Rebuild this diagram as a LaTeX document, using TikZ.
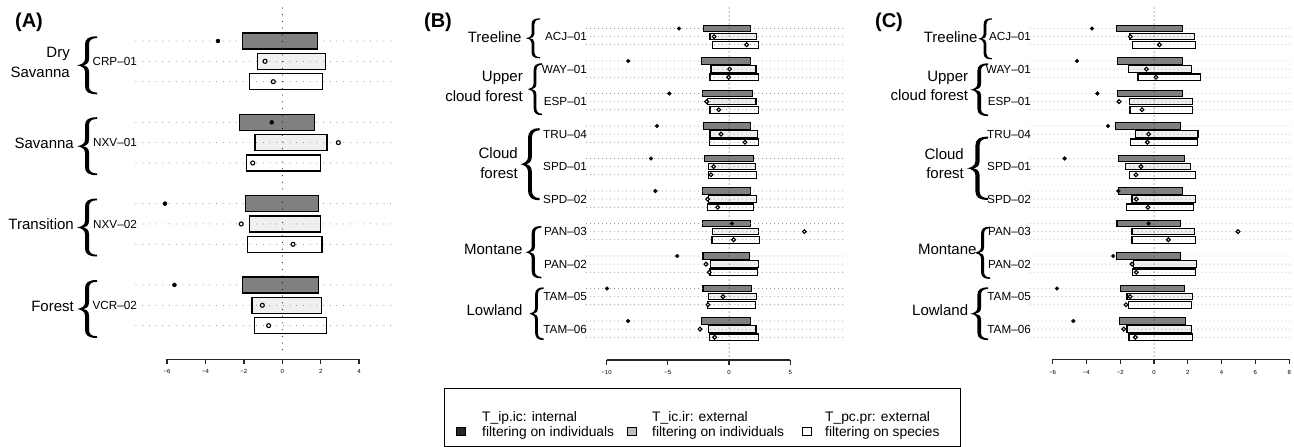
\documentclass[tikz,border=0pt]{standalone}
\usepackage{fontspec}
\setmainfont{Liberation Sans}
\definecolor{boxdark}{gray}{0.5}
\definecolor{boxlight}{gray}{0.94}
\definecolor{legdark}{gray}{0.15}
\definecolor{leggrey}{gray}{0.75}
\definecolor{guidegrey}{gray}{0.5}
\newcommand{\grpfont}{\fontsize{15}{19.5}\selectfont}
\newcommand{\sitefont}{\fontsize{11.7}{13}\selectfont}
\newcommand{\tickfont}{\fontsize{6}{7}\selectfont}
\newcommand{\legfont}{\fontsize{13.8}{14.6}\selectfont}
% curly brace: tip x, centre y, width, height
\newcommand{\grpbrace}[4]{%
  \fill[shift={(#1,#2)}, xscale=#3, yscale=#4/2]
    (1,-1) .. controls (0.6,-1) and (0.4,-0.92) .. (0.4,-0.72)
    -- (0.4,-0.22) .. controls (0.4,-0.08) and (0.2,-0.02) .. (0,0)
    .. controls (0.2,0.02) and (0.4,0.08) .. (0.4,0.22)
    -- (0.4,0.72) .. controls (0.4,0.92) and (0.6,1) .. (1,1)
    -- (1,0.94) .. controls (0.72,0.94) and (0.6,0.86) .. (0.6,0.72)
    -- (0.6,0.22) .. controls (0.6,0.07) and (0.45,0.01) .. (0.28,0)
    .. controls (0.45,-0.01) and (0.6,-0.07) .. (0.6,-0.22)
    -- (0.6,-0.72) .. controls (0.6,-0.86) and (0.72,-0.94) .. (1,-0.94) -- cycle;}
% row/kind/low/high/point
\def\dataA{0/a/-2.08/1.82/-3.35, 1/b/-1.30/2.24/-0.90, 2/c/-1.70/2.08/-0.47,
  4/a/-2.22/1.67/-0.55, 5/b/-1.42/2.33/2.92, 6/c/-1.88/1.98/-1.54,
  8/a/-1.93/1.88/-6.11, 9/b/-1.72/2.00/-2.14, 10/c/-1.79/2.07/0.56,
  12/a/-2.05/1.88/-5.62, 13/b/-1.58/2.03/-1.04, 14/c/-1.47/2.28/-0.71}
\def\dataB{0/a/-2.10/1.77/-4.08, 1/b/-1.55/2.26/-1.22, 2/c/-1.36/2.39/1.44,
  4/a/-2.23/1.77/-8.22, 5/b/-1.47/2.20/0.05, 6/c/-1.55/2.39/-0.03,
  8/a/-2.18/1.90/-4.87, 9/b/-1.74/2.20/-1.82, 10/c/-1.55/2.39/-0.84,
  12/a/-2.10/1.77/-5.88, 13/b/-1.55/2.31/-0.65, 14/c/-1.60/2.39/1.31,
  16/a/-2.01/1.99/-6.37, 17/b/-1.69/2.15/-1.25, 18/c/-1.69/2.28/-1.47,
  20/a/-2.18/1.77/-6.01, 21/b/-1.69/2.28/-1.74, 22/c/-1.77/2.01/-0.92,
  24/a/-2.18/1.77/0.24, 25/b/-1.33/2.39/6.15, 26/c/-1.39/2.47/0.38,
  28/a/-2.12/1.69/-4.22, 29/b/-1.50/2.39/-1.88, 30/c/-1.55/2.31/-1.61,
  32/a/-2.12/1.83/-9.96, 33/b/-1.66/2.26/-0.49, 34/c/-1.77/2.15/-1.71,
  36/a/-2.23/1.72/-8.24, 37/b/-1.66/2.20/-2.37, 38/c/-1.60/2.39/-1.17}
\def\dataC{0/a/-2.21/1.70/-3.67, 1/b/-1.46/2.39/-1.40, 2/c/-1.26/2.45/0.32,
  4/a/-2.15/1.70/-4.56, 5/b/-1.50/2.21/-0.45, 6/c/-0.95/2.74/0.12,
  8/a/-2.15/1.70/-3.35, 9/b/-1.46/2.29/-2.07, 10/c/-1.42/2.29/-0.71,
  12/a/-2.29/1.58/-2.72, 13/b/-1.08/2.60/-0.32, 14/c/-1.40/2.58/-0.39,
  16/a/-2.09/1.83/-5.29, 17/b/-1.67/2.15/-0.77, 18/c/-1.44/2.45/-1.07,
  20/a/-2.09/1.66/-2.11, 21/b/-1.30/2.45/-1.05, 22/c/-1.62/2.35/-0.36,
  24/a/-2.19/1.58/-0.32, 25/b/-1.30/2.37/4.97, 26/c/-1.30/2.45/0.85,
  28/a/-2.21/1.56/-2.41, 29/b/-1.22/2.53/-1.30, 30/c/-1.26/2.45/-1.05,
  32/a/-1.99/1.83/-5.74, 33/b/-1.60/2.27/-1.42, 34/c/-1.50/2.21/-1.66,
  36/a/-2.05/1.87/-4.77, 37/b/-1.60/2.21/-1.79, 38/c/-1.48/2.27/-1.10}

\begin{document}
\begin{tikzpicture}[x=1pt, y=-1pt,
    boxa/.style={draw=black, line width=1.1pt, fill=boxdark},
    boxb/.style={draw=black, line width=1.1pt, fill=boxlight},
    boxc/.style={draw=black, line width=1.1pt, fill=white},
    pta/.style={fill=black},
    ptb/.style={draw=black, line width=1.1pt, fill=white},
    ptc/.style={draw=black, line width=1.1pt, fill=white},
    hguideA/.style={guidegrey, line width=1pt, line cap=round, dash pattern=on 0pt off 6.7pt},
    hguideB/.style={guidegrey, line width=0.9pt, line cap=round, dash pattern=on 0pt off 4pt},
    vguideA/.style={black, line width=1.1pt, line cap=round, dash pattern=on 0pt off 6.7pt},
    vguideB/.style={black, line width=1pt, line cap=round, dash pattern=on 0pt off 4pt},
    axisline/.style={line width=1.3pt, black!85},
    ticklabel/.style={font=\tickfont, inner sep=0pt},
    sitelabel/.style={font=\sitefont, anchor=east, inner sep=0pt},
    grplabel/.style={font=\grpfont, anchor=east, align=right, inner sep=0pt},
    paneltitle/.style={font=\fontsize{20}{22}\selectfont\bfseries, inner sep=0pt},
    legsq/.style={draw=black, line width=0.9pt, minimum width=9pt, minimum height=8pt, inner sep=0pt},
    legtext/.style={font=\legfont, anchor=base west, inner sep=0pt}]
  % page
  \fill[white] (0,0) rectangle (1294,447);
  \useasboundingbox (0,0) rectangle (1294,447);

  % panel titles
  \node[paneltitle] (titA) at (29,22) {(A)};
  \node[paneltitle] (titB) at (438,22) {(B)};
  \node[paneltitle] (titC) at (889,22) {(C)};

  % ---- Panel A ----
  \begin{scope}[shift={(282.3,0)}, x=19.2pt]
    \foreach \r/\s/\lo/\hi/\pt in \dataA
      \draw[box\s] (\lo,{41+20.33*\r-8}) rectangle (\hi,{41+20.33*\r+8});
    \foreach \r/\s/\lo/\hi/\pt in \dataA
      \draw[hguideA] (-7.62,{41+20.33*\r}) -- (5.87,{41+20.33*\r});
    \draw[vguideA] (0,8) -- (0,355);
    \foreach \r/\s/\lo/\hi/\pt in \dataA
      \draw[pt\s] (\pt,{41+20.33*\r}) circle (2pt);
    % axis
    \draw[axisline] (-6,359.3) -- (4,359.3);
    \foreach \t/\l in {-6/−6,-4/−4,-2/−2,0/0,2/2,4/4}{
      \draw[axisline] (\t,359.3) -- (\t,363.8);
      \node[ticklabel] (tickA\t) at (\t,371.7) {\l};
    }
  \end{scope}
  \foreach \g/\site in {0/CRP--01,1/NXV--01,2/NXV--02,3/VCR--02}
    \node[sitelabel] (siteA\g) at (137,{41+20.33*(4*\g+1)}) {\site};
  \foreach \g/\cy in {0/65.3,1/146.2,2/227.5,3/309}{
    \grpbrace{77}{\cy}{20}{58}
  }
  \node[grplabel] (grpA0) at (70,62.2) {Dry\\Savanna};
  \node[grplabel] (grpA1) at (74,143) {Savanna};
  \node[grplabel] (grpA2) at (74,224) {Transition};
  \node[grplabel] (grpA3) at (74,306) {Forest};

  % ---- Panel B ----
  \begin{scope}[shift={(729,0)}, x=12.25pt]
    \foreach \r/\s/\lo/\hi/\pt in \dataB
      \draw[box\s] (\lo,{28.5+8.125*\r-3.3}) rectangle (\hi,{28.5+8.125*\r+3.3});
    \foreach \r/\s/\lo/\hi/\pt in \dataB
      \draw[hguideB] (-11.62,{28.5+8.125*\r}) -- (9.47,{28.5+8.125*\r});
    \draw[vguideB] (0,8) -- (0,356);
    \foreach \r/\s/\lo/\hi/\pt in \dataB
      \draw[pt\s] (\pt,{28.5+8.125*\r}) circle (1.9pt);
    % axis
    \draw[axisline] (-10,360) -- (5,360);
    \foreach \t/\l in {-10/−10,-5/−5,0/0,5/5}{
      \draw[axisline] (\t,360) -- (\t,364.5);
      \node[ticklabel] (tickB\t) at (\t,372.3) {\l};
    }
  \end{scope}
  \foreach \k/\site in {0/ACJ--01,1/WAY--01,2/ESP--01,3/TRU--04,4/SPD--01,
                        5/SPD--02,6/PAN--03,7/PAN--02,8/TAM--05,9/TAM--06}
    \node[sitelabel] (siteB\k) at (587,{28.5+8.125*(4*\k+1)}) {\site};
  \grpbrace{526}{38.3}{14}{40}
  \grpbrace{528}{89.2}{14}{52}
  \grpbrace{520.5}{164.2}{19}{72}
  \grpbrace{525.3}{252.2}{16}{52.3}
  \grpbrace{529.5}{313.7}{14}{52.7}
  \node[grplabel] (grpB0) at (521.7,36.7) {Treeline};
  \node[grplabel] (grpB1) at (523,86.3) {Upper\\cloud forest};
  \node[grplabel] (grpB2) at (518,163.3) {Cloud\\forest};
  \node[grplabel] (grpB3) at (522.7,249.3) {Montane};
  \node[grplabel] (grpB4) at (522.7,310) {Lowland};

  % ---- Panel C ----
  \begin{scope}[shift={(1154,0)}, x=16.9pt]
    \foreach \r/\s/\lo/\hi/\pt in \dataC
      \draw[box\s] (\lo,{28.5+8.125*\r-3.3}) rectangle (\hi,{28.5+8.125*\r+3.3});
    \foreach \r/\s/\lo/\hi/\pt in \dataC
      \draw[hguideB] (-7.34,{28.5+8.125*\r}) -- (8.05,{28.5+8.125*\r});
    \draw[vguideB] (0,8) -- (0,356);
    \foreach \r/\s/\lo/\hi/\pt in \dataC
      \draw[pt\s] (\pt,{28.5+8.125*\r}) circle (1.9pt);
    % axis
    \draw[axisline] (-6,359.3) -- (8,359.3);
    \foreach \t/\l in {-6/−6,-4/−4,-2/−2,0/0,2/2,4/4,6/6,8/8}{
      \draw[axisline] (\t,359.3) -- (\t,363.8);
      \node[ticklabel] (tickC\t) at (\t,372) {\l};
    }
  \end{scope}
  \foreach \k/\site in {0/ACJ--01,1/WAY--01,2/ESP--01,3/TRU--04,4/SPD--01,
                        5/SPD--02,6/PAN--03,7/PAN--02,8/TAM--05,9/TAM--06}
    \node[sitelabel] (siteC\k) at (1031,{28.5+8.125*(4*\k+1)}) {\site};
  \grpbrace{978.3}{38.8}{13.5}{41}
  \grpbrace{970.2}{89.7}{18}{52.7}
  \grpbrace{967}{168.3}{21}{63.3}
  \grpbrace{975}{252.8}{15}{52.3}
  \grpbrace{970.2}{313.7}{18}{52.7}
  \node[grplabel] (grpC0) at (977.7,36.7) {Treeline};
  \node[grplabel] (grpC1) at (968.3,86) {Upper\\cloud forest};
  \node[grplabel] (grpC2) at (964,163.7) {Cloud\\forest};
  \node[grplabel] (grpC3) at (976.7,249.3) {Montane};
  \node[grplabel] (grpC4) at (968.3,310) {Lowland};

  % ---- Legend ----
  \draw[line width=0.9pt] (444,388.3) rectangle (960,446.7);
  \foreach \n/\sx/\tx/\col/\la/\lb in {a/461/482/legdark/T\_ip.ic: internal/filtering on individuals,
      b/632/652/leggrey/T\_ic.ir: external/filtering on individuals,
      c/807/825/white/T\_pc.pr: external/filtering on species}{
    \node[legsq, fill=\col] (legsq\n) at (\sx,431.3) {};
    \node[legtext] (legtop\n) at (\tx,421.6) {\la};
    \node[legtext] (legbot\n) at (\tx,436.2) {\lb};
  }
\end{tikzpicture}
\end{document}
